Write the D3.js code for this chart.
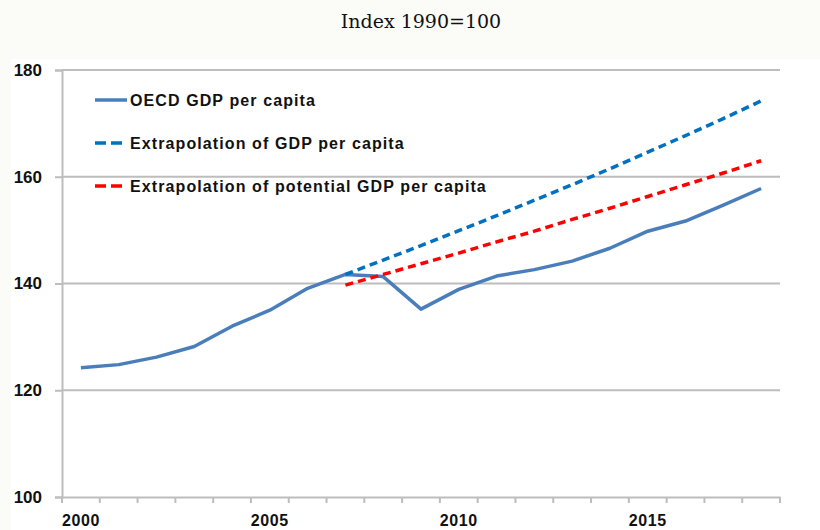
<!DOCTYPE html>
<html><head><meta charset="utf-8">
<script src="https://cdn.jsdelivr.net/npm/d3@7"></script>
<style>body{margin:0;background:#fff;} svg{display:block;}</style>
</head><body>
<script>
const years = [2000,2001,2002,2003,2004,2005,2006,2007,2008,2009,2010,2011,2012,2013,2014,2015,2016,2017,2018];
const oecdGdp = [124.2,124.8,126.2,128.2,132.0,135.0,139.1,141.7,141.3,135.2,138.9,141.4,142.6,144.2,146.6,149.8,151.7,154.7,157.8];
const extrapYears = [2007,2008,2009,2010,2011,2012,2013,2014,2015,2016,2017,2018];
const extrapGdp = [141.7,144.4,147.1,149.9,152.7,155.6,158.5,161.5,164.6,167.7,170.9,174.2];
const extrapPotential = [139.7,141.7,143.7,145.7,147.8,149.8,152.0,154.1,156.3,158.5,160.7,163.0];
const yTicks = [100,120,140,160,180];
const xLabels = [2000,2005,2010,2015];
const title = "Index 1990=100";
const legendItems = [
  {name:"OECD GDP per capita", color:"#4a7ebb", dash:null},
  {name:"Extrapolation of GDP per capita", color:"#0070c0", dash:"8,5"},
  {name:"Extrapolation of potential GDP per capita", color:"#ff0000", dash:"8,5"}
];

const W=820,H=530;
const svg=d3.select("body").append("svg").attr("width",W).attr("height",H);
svg.append("rect").attr("width",W).attr("height",H).attr("fill","#fbfbf7");
svg.append("rect").attr("x",11).attr("y",59).attr("width",W-11).attr("height",H-59).attr("fill","#fff");

const mLeft=62,mRight=780,mTop=70,mBottom=497;
const x=d3.scaleBand().domain(years).range([mLeft,mRight]).padding(0);
const y=d3.scaleLinear().domain([100,180]).range([mBottom,mTop]);
const cx=d=>x(d)+x.bandwidth()/2;

svg.append("text").attr("x",421).attr("y",28).attr("text-anchor","middle")
  .attr("font-family","DejaVu Serif, serif").attr("font-size",19).attr("fill","#111").text(title);

// gridlines
svg.append("g").selectAll("line").data(yTicks.slice(1)).join("line")
  .attr("x1",mLeft).attr("x2",mRight).attr("y1",d=>y(d)).attr("y2",d=>y(d))
  .attr("stroke","#bdbdbd").attr("stroke-width",2);

// y axis
const yAxis=svg.append("g").attr("transform",`translate(${mLeft},0)`)
  .call(d3.axisLeft(y).tickValues(yTicks).tickSize(7).tickPadding(13));
yAxis.select(".domain").attr("stroke","#bdbdbd").attr("stroke-width",2);
yAxis.selectAll(".tick line").attr("stroke","#bdbdbd").attr("stroke-width",2);
yAxis.selectAll("text").attr("font-family","Liberation Sans, Arial, sans-serif").attr("font-weight","bold")
  .attr("font-size",17).attr("fill","#111");

// x axis
const xAxis=svg.append("g").attr("transform",`translate(0,${mBottom})`)
  .call(d3.axisBottom(x).tickValues([]).tickSizeOuter(0));
xAxis.select(".domain").attr("stroke","#bdbdbd").attr("stroke-width",2);
const edges=years.map(d=>x(d)).concat([mRight]);
xAxis.selectAll("line.edge").data(edges).join("line").attr("class","edge")
  .attr("x1",d=>d).attr("x2",d=>d).attr("y1",0).attr("y2",6)
  .attr("stroke","#bdbdbd").attr("stroke-width",2);
xAxis.selectAll("text.lbl").data(xLabels).join("text").attr("class","lbl")
  .attr("x",d=>cx(d)).attr("y",28.5).attr("text-anchor","middle")
  .attr("font-family","Liberation Sans, Arial, sans-serif").attr("font-weight","bold")
  .attr("font-size",16).attr("letter-spacing","0.6px").attr("fill","#111").text(d=>d);

const line=d3.line().x(d=>cx(d[0])).y(d=>y(d[1]));
svg.append("path").datum(years.map((d,i)=>[d,oecdGdp[i]])).attr("d",line)
  .attr("fill","none").attr("stroke",legendItems[0].color).attr("stroke-width",3.5).attr("stroke-linejoin","round");
svg.append("path").datum(extrapYears.map((d,i)=>[d,extrapGdp[i]])).attr("d",line)
  .attr("fill","none").attr("stroke",legendItems[1].color).attr("stroke-width",3.5).attr("stroke-dasharray",legendItems[1].dash);
svg.append("path").datum(extrapYears.map((d,i)=>[d,extrapPotential[i]])).attr("d",line)
  .attr("fill","none").attr("stroke",legendItems[2].color).attr("stroke-width",3.5).attr("stroke-dasharray",legendItems[2].dash);

// legend
const lg=svg.append("g");
legendItems.forEach((it,i)=>{
  const yy=100+i*43;
  lg.append("line").attr("x1",95).attr("x2",127).attr("y1",yy).attr("y2",yy)
    .attr("stroke",it.color).attr("stroke-width",3.5).attr("stroke-dasharray",it.dash?"11,5":null);
  lg.append("text").attr("x",130).attr("y",yy+6)
    .attr("font-family","Liberation Sans, Arial, sans-serif").attr("font-weight","bold")
    .attr("font-size",16).attr("letter-spacing","1.1px").attr("fill","#111").text(it.name);
});
</script>
</body></html>
